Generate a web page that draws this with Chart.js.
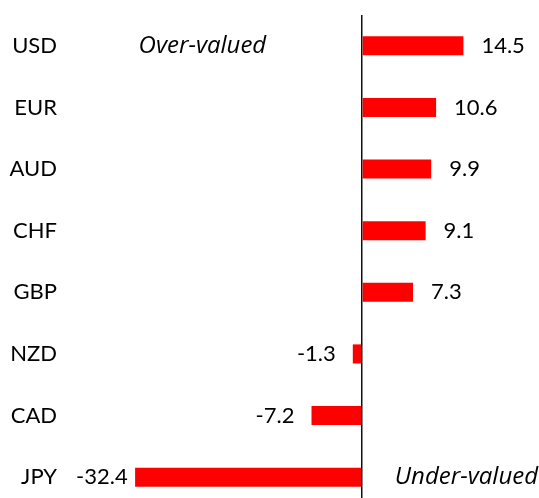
<!DOCTYPE html>
<html>
<head>
<meta charset="utf-8">
<script src="https://cdn.jsdelivr.net/npm/chart.js@4.4.1/dist/chart.umd.min.js"></script>
<style>
  html, body { margin: 0; padding: 0; background: #fff; overflow: hidden; }
  #wrap { width: 539px; height: 498px; overflow: hidden; }
  #box { width: 539px; height: 508px; position: relative; }
</style>
</head>
<body>
<div id="wrap"><div id="box"><canvas id="fx-chart"></canvas></div></div>
<script>
const currencies = ['USD', 'EUR', 'AUD', 'CHF', 'GBP', 'NZD', 'CAD', 'JPY'];
const valuation = [14.5, 10.6, 9.9, 9.1, 7.3, -1.3, -7.2, -32.4];
const notes = [
    {text: 'Over-valued', x: -31.9, row: 'USD'},
    {text: 'Under-valued', x: 4.7, row: 'JPY'},
];

const FONT = 'Lato, "Open Sans", sans-serif';
const NOTE_FONT = 'italic 24px "Open Sans", sans-serif';

// numbers at the end of each bar
const barValues = {
    id: 'barValues',
    afterDatasetsDraw(chart) {
        const ctx = chart.ctx;
        const meta = chart.getDatasetMeta(0);
        ctx.save();
        ctx.font = '22px ' + FONT;
        ctx.fillStyle = '#000';
        ctx.textBaseline = 'middle';
        meta.data.forEach((bar, i) => {
            let v = valuation[i];
            let label = v.toFixed(1);
            if (v >= 0) {
                ctx.textAlign = 'left';
                ctx.fillText(label, bar.x + 18, bar.y);
            } else {
                let w = ctx.measureText(label).width;
                let x = Math.max(bar.x - 17, chart.chartArea.left + 6 + w);
                ctx.textAlign = 'right';
                ctx.fillText(label, x, bar.y);
            }
        });
        ctx.restore();
    }
};

const sideNotes = {
    id: 'sideNotes',
    afterDatasetsDraw(chart) {
        const ctx = chart.ctx;
        ctx.save();
        ctx.font = NOTE_FONT;
        ctx.fillStyle = '#000';
        ctx.textBaseline = 'middle';
        ctx.textAlign = 'left';
        notes.forEach(n => {
            ctx.fillText(n.text, chart.scales.x.getPixelForValue(n.x), chart.scales.y.getPixelForValue(n.row));
        });
        ctx.restore();
    }
};

new Chart(document.getElementById('fx-chart'), {
    type: 'bar',
    data: {
        labels: currencies,
        datasets: [{
            data: valuation,
            backgroundColor: '#ff0000',
            borderWidth: 0,
            categoryPercentage: 1,
            barPercentage: 0.31,
        }]
    },
    options: {
        indexAxis: 'y',
        responsive: true,
        maintainAspectRatio: false,
        animation: false,
        layout: {padding: {top: 15, left: 0, right: 0, bottom: 0}},
        plugins: {legend: {display: false}, tooltip: {enabled: false}},
        scales: {
            x: {
                min: -41.7,
                max: 25.3,
                ticks: {display: false, stepSize: 5},
                border: {display: false},
                grid: {
                    drawTicks: false,
                    lineWidth: 1.5,
                    color: (c) => c.tick && c.tick.value === 0 ? '#111' : 'rgba(0,0,0,0)'
                },
                afterFit(scale) { scale.height = 0; scale.paddingLeft = 0; scale.paddingRight = 0; }
            },
            y: {
                border: {display: false},
                grid: {display: false, drawTicks: false},
                ticks: {color: '#000', padding: 13, font: {family: FONT, size: 22}},
                afterFit(scale) { scale.width = 70; scale.paddingTop = 0; scale.paddingBottom = 0; }
            }
        }
    },
    plugins: [barValues, sideNotes]
});
</script>
</body>
</html>
